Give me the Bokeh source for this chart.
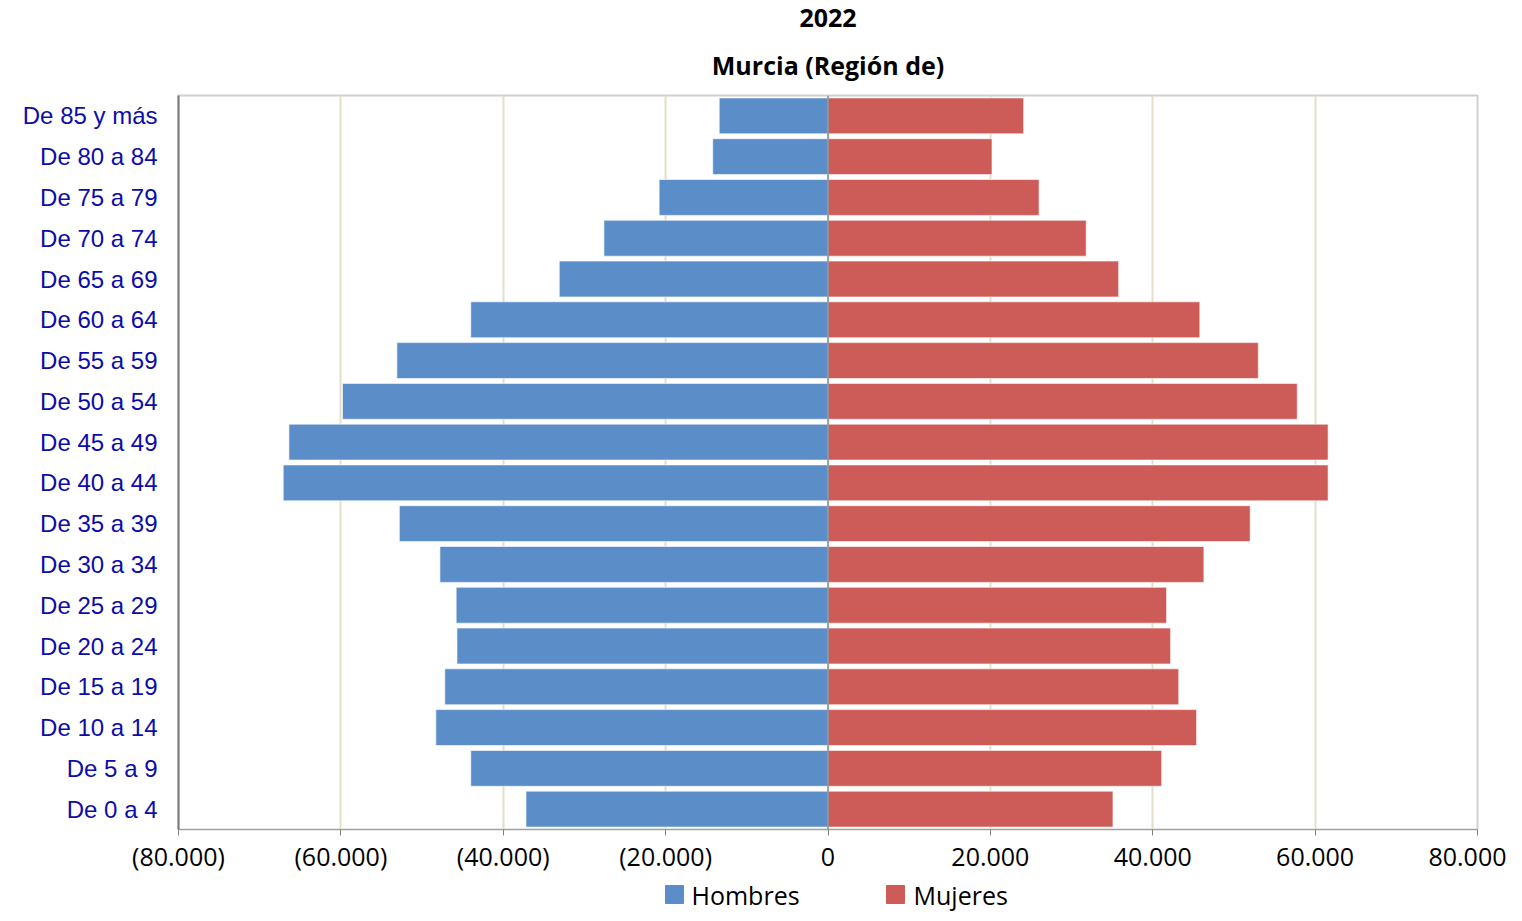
from bokeh.plotting import figure
from bokeh.models import FactorRange, FixedTicker, Span, Range1d
from bokeh.layouts import column
from bokeh.core.properties import value
from bokeh.embed import file_html
from bokeh.resources import INLINE

# ---- data ----
grupos = ["De 0 a 4", "De 5 a 9", "De 10 a 14", "De 15 a 19", "De 20 a 24",
          "De 25 a 29", "De 30 a 34", "De 35 a 39", "De 40 a 44", "De 45 a 49",
          "De 50 a 54", "De 55 a 59", "De 60 a 64", "De 65 a 69", "De 70 a 74",
          "De 75 a 79", "De 80 a 84", "De 85 y más"]
hombres = [37200, 44000, 48300, 47200, 45700, 45800, 47800, 52800, 67100, 66400,
           59800, 53100, 44000, 33100, 27600, 20800, 14200, 13400]
mujeres = [35100, 41100, 45400, 43200, 42200, 41700, 46300, 52000, 61600, 61600,
           57800, 53000, 45800, 35800, 31800, 26000, 20200, 24100]
x_ticks = [-80000, -60000, -40000, -20000, 0, 20000, 40000, 60000, 80000]
x_tick_labels = ["(80.000)", "(60.000)", "(40.000)", "(20.000)", "0",
                 "20.000", "40.000", "60.000", "80.000"]
series = ["Hombres", "Mujeres"]
titulos = ["2022", "Murcia (Región de)"]

BLUE = "#5b8dc9"
RED = "#cd5b57"
colores = [BLUE, RED]

W = 1506
FL, FR = 178, 1477          # frame edges (page pixels)
TOP_H = 93                  # title strip height
MAIN_H = 2 + 735 + 45       # main figure height (frame 735 px tall)
LEG_H = 38                  # legend strip height


def strip(h):
    f = figure(width=W, height=h, output_backend="svg", toolbar_location=None,
               title=None, x_range=Range1d(FL, FR), y_range=Range1d(0, h),
               min_border_left=FL, min_border_right=W - FR, min_border_top=0,
               min_border_bottom=0, outline_line_color=None)
    f.axis.visible = False
    f.grid.visible = False
    return f


# ---- title strip ----
top = strip(TOP_H)
top.text(x=[827.5, 827.5], y=[TOP_H - 17, TOP_H - 64], text=titulos,
         text_font=value("Open Sans"), text_font_size="25px", text_font_style="bold",
         text_align="center", text_baseline="middle", text_color="#000000")

# ---- main chart ----
p = figure(width=W, height=MAIN_H, output_backend="svg", toolbar_location=None,
           title=None,
           y_range=FactorRange(*grupos, range_padding=0),
           x_range=(-80000, 80000),
           min_border_left=FL, min_border_right=W - FR, min_border_top=2,
           min_border_bottom=45)

neg_h = [-v for v in hombres]
zeros = [0] * len(grupos)
p.hbar(y=grupos, left=neg_h, right=zeros, height=0.88, color=BLUE,
       line_color="#ffffff", line_alpha=0.6)
p.hbar(y=grupos, left=zeros, right=mujeres, height=0.88, color=RED,
       line_color="#ffffff", line_alpha=0.6)

p.xaxis.ticker = FixedTicker(ticks=x_ticks)
p.xaxis.major_label_overrides = {t: l for t, l in zip(x_ticks, x_tick_labels)}
p.xaxis.major_label_text_font = "Open Sans"
p.xaxis.major_label_text_font_size = "25px"
p.xaxis.major_label_text_color = "#000000"
p.xaxis.axis_line_color = "#a0a0a0"
p.xaxis.major_tick_line_color = "#808080"
p.xaxis.major_tick_out = 6
p.xaxis.major_tick_in = 0
p.xaxis.minor_tick_line_color = None
p.xaxis.major_label_standoff = 3

p.yaxis.major_label_text_font = "Liberation Sans"
p.yaxis.major_label_text_font_size = "24px"
p.yaxis.major_label_text_color = "#0c0caa"
p.yaxis.axis_line_color = "#7a7a7a"
p.yaxis.axis_line_width = 2
p.yaxis.major_tick_line_color = None
p.yaxis.major_tick_out = 0
p.yaxis.major_label_standoff = 21

p.ygrid.grid_line_color = None
p.xgrid.grid_line_color = "#e3dfc9"
p.xgrid.grid_line_width = 2
p.outline_line_color = "#d0d0d0"
p.outline_line_width = 2

p.add_layout(Span(location=0, dimension="height", line_color="#8a8a8a", line_width=1.5))

# ---- legend strip ----
lg = strip(LEG_H)
cy = LEG_H / 2
lg.rect(x=[674, 895], y=[cy] * 2, width=18, height=18, color=colores)
lg.text(x=[691, 913], y=[cy] * 2, text=series, text_font=value("Open Sans"),
        text_font_size="25px", text_baseline="middle", text_align="left",
        text_color="#000000")

open("out.html", "w").write(file_html(column(top, p, lg, spacing=0), INLINE))
